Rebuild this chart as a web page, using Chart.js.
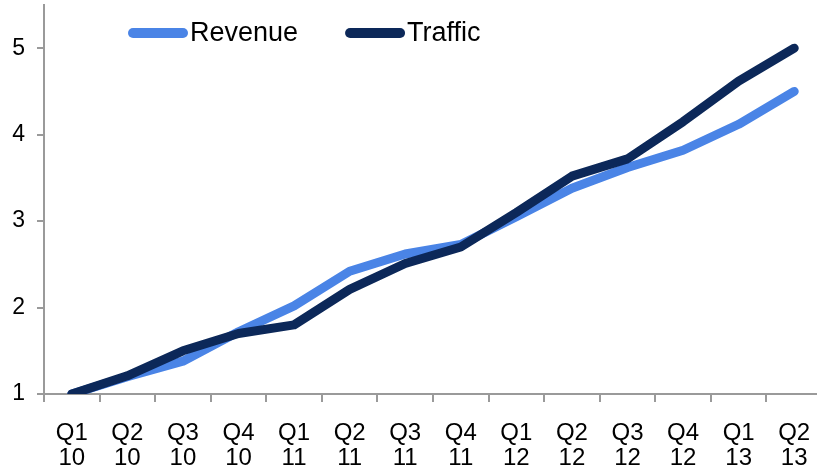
<!DOCTYPE html>
<html>
<head>
<meta charset="utf-8">
<script src="https://cdn.jsdelivr.net/npm/chart.js@4/dist/chart.umd.min.js"></script>
<style>
  html, body { margin: 0; padding: 0; background: #ffffff; overflow: hidden; }
  #wrap { width: 823px; height: 468px; position: relative; }
</style>
</head>
<body>
<div id="wrap"><canvas id="c"></canvas></div>
<script>
// ---- data ----
const quarters = ["Q1","Q2","Q3","Q4","Q1","Q2","Q3","Q4","Q1","Q2","Q3","Q4","Q1","Q2"];
const years    = ["10","10","10","10","11","11","11","11","12","12","12","12","13","13"];
const revenue  = [1.0, 1.2, 1.38, 1.72, 2.02, 2.42, 2.62, 2.73, 3.05, 3.38, 3.62, 3.82, 4.12, 4.5];
const traffic  = [1.0, 1.21, 1.5, 1.7, 1.8, 2.21, 2.51, 2.7, 3.1, 3.52, 3.72, 4.15, 4.62, 5.0];
const yTicks   = [1, 2, 3, 4, 5];
const seriesNames = ["Revenue", "Traffic"];

const labels = quarters.map((q, i) => [q, years[i]]);
const colRevenue = "#4A84E6";
const colTraffic = "#0C2859";
const axisColor = "#9a9a9a";
const fontFamily = "'Liberation Sans', Arial, sans-serif";

const legendPlugin = {
  id: 'customLegend',
  afterDatasetsDraw(chart) {
    const ctx = chart.ctx;
    const items = [
      { name: seriesNames[0], color: colRevenue },
      { name: seriesNames[1], color: colTraffic }
    ];
    ctx.save();
    ctx.font = "27px " + fontFamily;
    ctx.textBaseline = "middle";
    let x = 128;
    const y = 33;
    items.forEach(it => {
      ctx.strokeStyle = it.color;
      ctx.lineWidth = 10;
      ctx.lineCap = "round";
      ctx.beginPath();
      ctx.moveTo(x + 5, y);
      ctx.lineTo(x + 55, y);
      ctx.stroke();
      ctx.fillStyle = "#000000";
      ctx.fillText(it.name, x + 62, y + 1);
      const w = ctx.measureText(it.name).width;
      x = x + 62 + w + 47;
    });
    ctx.restore();
  }
};

new Chart(document.getElementById('c'), {
  type: 'line',
  data: {
    labels: labels,
    datasets: [
      {
        label: seriesNames[0],
        data: revenue,
        borderColor: colRevenue,
        backgroundColor: colRevenue,
        borderWidth: 9,
        pointRadius: 0,
        borderCapStyle: 'round',
        borderJoinStyle: 'round',
        tension: 0,
        order: 2
      },
      {
        label: seriesNames[1],
        data: traffic,
        borderColor: colTraffic,
        backgroundColor: colTraffic,
        borderWidth: 9,
        pointRadius: 0,
        borderCapStyle: 'round',
        borderJoinStyle: 'round',
        tension: 0,
        order: 1
      }
    ]
  },
  options: {
    responsive: true,
    maintainAspectRatio: false,
    animation: false,
    devicePixelRatio: 1,
    layout: { padding: { top: 5, right: 1, left: 0, bottom: 0 } },
    plugins: {
      legend: { display: false },
      tooltip: { enabled: false }
    },
    scales: {
      x: {
        offset: true,
        border: { display: true, color: axisColor, width: 2 },
        grid: {
          display: true,
          offset: true,
          drawOnChartArea: false,
          drawTicks: true,
          tickLength: 8,
          color: axisColor,
          lineWidth: 2
        },
        ticks: {
          color: "#000000",
          font: { family: fontFamily, size: 24, lineHeight: 1.05 },
          padding: 19,
          maxRotation: 0,
          minRotation: 0,
          autoSkip: false
        },
        afterFit(scale) { scale.height = 74; scale.paddingLeft = 0; scale.paddingRight = 0; }
      },
      y: {
        min: 1,
        max: 5.5,
        border: { display: true, color: axisColor, width: 2 },
        grid: {
          display: true,
          drawOnChartArea: false,
          drawTicks: true,
          tickLength: 7,
          color: axisColor,
          lineWidth: 2
        },
        ticks: {
          stepSize: 1,
          color: "#000000",
          font: { family: fontFamily, size: 23 },
          padding: 12
        },
        afterBuildTicks(scale) {
          scale.ticks = yTicks.map(v => ({ value: v }));
        },
        afterFit(scale) { scale.width = 44; scale.paddingTop = 0; scale.paddingBottom = 0; }
      }
    }
  },
  plugins: [legendPlugin]
});
</script>
</body>
</html>
